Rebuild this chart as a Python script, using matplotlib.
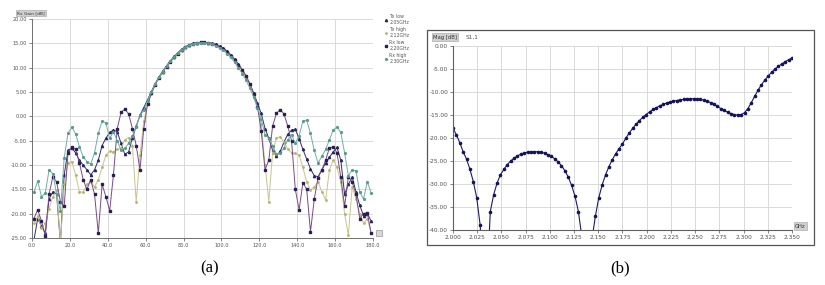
import numpy as np
import matplotlib.pyplot as plt
from matplotlib.patches import Rectangle

# ================= (a) gain pattern, 2 deg steps =================
angle = list(range(1, 180, 2))

tx_low = [-25.5, -21, -22.5, -24, -17, -15.5, -16, -26, -12, -7,
          -6.5, -7.5, -9, -10, -11, -12, -11, -9, -6, -4.5,
          -3.3, -2.8, -3.2, -5.5, -7.8, -7.3, -4.5, -2, 0.2,
          1.8, 3.4, 5.1, 6.7, 8.1, 9.3, 10.4, 11.4, 12.3, 13.1,
          13.8, 14.3, 14.7, 15.0, 15.15, 15.2, 15.2, 15.15, 15.0, 14.8,
          14.4, 14.0, 13.4, 12.6, 11.7, 10.7, 9.6, 8.3, 6.7, 4.8, 2.7, 0.6,
          -2.5, -4.5, -7, -8.2, -7.2, -5.3, -3.7, -2.8, -2.7, -4.6,
          -6.8, -8.8, -10.8, -12.2, -12.4, -11, -9.6, -8.4, -7.3, -6.4,
          -9, -16, -14, -12.5, -15.5, -18.3, -20.4, -20, -21.5]

tx_high = [-22, -20.5, -23, -22, -19, -16.5, -15.2, -26, -14, -9.5,
           -9.3, -12, -15.5, -15.6, -14, -13.4, -14.5, -13, -10.5, -8,
           -7.2, -7.3, -6.8, -6.6, -4.8, -4.4, -6, -17.5, -8,
           -1.0, 2.6, 4.6, 6.4, 7.8, 9.0, 10.1, 11.1, 12.0, 12.8,
           13.5, 14.1, 14.5, 14.8, 15.0, 15.1, 15.1, 15.0, 14.8, 14.6,
           14.2, 13.8, 13.2, 12.4, 11.5, 10.5, 9.4, 8.1, 6.4, 4.3, 1.8, -1.5,
           -10, -17.5, -7.5, -4.4, -4.2, -5.3, -6.8, -7.5, -7.6, -8,
           -10.5, -13.5, -15.1, -14.5, -13.4, -15.5, -17.2, -11, -9, -10.5,
           -13.5, -20, -24.4, -14.5, -17, -20, -22, -21, -24]

rx_low = [-21, -19.2, -21.5, -24.5, -16, -12.4, -13.5, -17.5, -18.5, -7.5,
          -6.2, -6.8, -9.5, -13, -15, -13, -16, -24, -14, -16.5,
          -19.4, -12, -2.5, 0.8, 1.5, 0.5, -2.5, -6, -11,
          -2.5, 2.5, 4.7, 6.5, 7.9, 9.1, 10.2, 11.2, 12.1, 12.9,
          13.6, 14.2, 14.6, 14.9, 15.1, 15.2, 15.2, 15.1, 14.9, 14.7,
          14.3, 13.9, 13.3, 12.5, 11.6, 10.6, 9.5, 8.2, 6.6, 4.6, 2.0, -3.0,
          -11, -9, -2, 0.6, 1.4, 0.5, -2, -5, -15, -19.2,
          -13.6, -15, -23.7, -17, -12.6, -11, -9, -6.5, -6.3, -7.5,
          -12.5, -18.5, -12.4, -13.5, -16, -21, -20, -19.8, -24]

rx_high = [-15.6, -13.3, -16.5, -15.8, -11, -11.8, -16, -19.5, -8.5, -3.5,
           -2.2, -3.6, -6.2, -8.3, -9.3, -9.8, -7.5, -3.5, -0.9, -1.4,
           -4.5, -3.2, -5, -7, -6.6, -5.5, -4, -2.2, 0.2,
           1.2, 3.2, 5.0, 6.6, 8.0, 9.2, 10.3, 11.3, 12.2, 13.0,
           13.7, 14.2, 14.6, 14.9, 15.05, 15.1, 15.1, 15.0, 14.8, 14.5,
           14.1, 13.6, 12.9, 12.1, 11.1, 10.0, 8.8, 7.4, 5.8, 3.9, 1.8, -0.5,
           -3.8, -4.5, -6, -7.8, -7.5, -6.5, -4.8, -3.8, -5.5, -4,
           -1.0, -0.8, -3.5, -7, -9.6, -8.2, -6.8, -4.8, -2.8, -2.2,
           -3.3, -7.5, -12.2, -11, -11.2, -15.6, -17, -13.4, -15.8]

series_names = ["Tx low\n2.05GHz", "Tx high\n2.12GHz", "Rx low\n2.20GHz", "Rx high\n2.30GHz"]

# ================= (b) S11 sweep, 101 points =================
freq = np.linspace(2.0, 2.35, 101)
s11 = [-17.9, -19.3, -21.0, -23.0, -24.6, -26.8, -29.5, -33.0, -38.9, -50,
       -52, -36.0, -32.3, -29.8, -28.0, -26.8, -25.8, -25.0, -24.4, -23.9,
       -23.5, -23.25, -23.1, -23.0, -22.95, -23.0, -23.1, -23.3, -23.6, -24.0,
       -24.5, -25.2, -26.0, -27.1, -28.5, -30.3, -32.7, -36.0, -41.5, -50,
       -52, -42, -37, -33, -30.2, -28.0, -26.2, -24.7, -23.4, -22.3,
       -21.3, -20.0, -18.9, -17.9, -17.0, -16.2, -15.5, -14.9, -14.3, -13.8,
       -13.4, -13.0, -12.7, -12.4, -12.2, -12.0, -11.85, -11.7, -11.6, -11.5,
       -11.45, -11.45, -11.5, -11.6, -11.8, -12.0, -12.3, -12.7, -13.1, -13.6,
       -14.0, -14.4, -14.7, -14.9, -15.0, -14.9, -14.5, -13.6, -12.3, -10.9,
       -9.6, -8.4, -7.4, -6.5, -5.7, -5.0, -4.4, -3.9, -3.4, -3.0, -2.6]

# ================= figure =================
W, H = 825, 285
fig = plt.figure(figsize=(W / 100, H / 100), dpi=100)

def box(x0, y0, x1, y1):
    # pixel box -> figure fraction [left, bottom, width, height]
    return [x0 / W, 1 - y1 / H, (x1 - x0) / W, (y1 - y0) / H]

tick_col = "#505050"
grid_col = "#d4d4d4"
fs = 3.6

# ---- (a) ----
ax1 = fig.add_axes(box(32, 19, 373, 238))
styles = [
    dict(color="#2e2f6e", marker="^", ms=1.6, mfc="#262660", mec="#262660"),
    dict(color="#c9c38c", marker="o", ms=1.0, mfc="#b8b070", mec="#b8b070"),
    dict(color="#7a4a86", marker="s", ms=1.6, mfc="#2a1f50", mec="#2a1f50"),
    dict(color="#6fb0a6", marker="o", ms=1.3, mfc="#5a9a90", mec="#5a9a90"),
]
handles = []
for vals, st, name in zip([tx_low, tx_high, rx_low, rx_high], styles, series_names):
    ln, = ax1.plot(angle, vals, lw=0.7, label=name, **st)
    handles.append(ln)

ax1.set_xlim(0, 180)
ax1.set_ylim(-25, 20)
ax1.set_xticks(range(0, 181, 20))
ax1.set_yticks(range(-25, 21, 5))
ax1.set_xticklabels([f"{v:.1f}" for v in range(0, 181, 20)])
ax1.set_yticklabels([f"{v:.2f}" for v in range(-25, 21, 5)])
ax1.grid(True, color=grid_col, lw=0.6)
ax1.set_axisbelow(True)
for s in ["top", "right"]:
    ax1.spines[s].set_visible(False)
for s in ["left", "bottom"]:
    ax1.spines[s].set_color("#707070")
    ax1.spines[s].set_linewidth(0.7)
ax1.tick_params(labelsize=fs, colors=tick_col, length=2, width=0.5, pad=1.5)

fig.text(17 / W, 1 - 13 / H, "Rx Gain [dB]", fontsize=3.2, color="#333333", va="center",
         bbox=dict(boxstyle="square,pad=0.2", fc="#d0d0d0", ec="#a0a0a0", lw=0.4))

leg = fig.legend(handles=handles, loc="upper left", bbox_to_anchor=(381 / W, 1 - 10 / H),
                 frameon=False, fontsize=3.3, handlelength=0.4, handletextpad=0.5,
                 labelspacing=0.5, labelcolor="#555555")
for h in leg.legend_handles:
    h.set_linestyle("none")

fig.add_artist(Rectangle(((376) / W, 1 - 236 / H), 6 / W, 6 / H, transform=fig.transFigure,
                         fc="#d8d8d8", ec="#808080", lw=0.4))

# ---- (b) ----
fig.add_artist(Rectangle((427 / W, 1 - 245 / H), 387 / W, 215 / H, transform=fig.transFigure,
                         fill=False, ec="#555555", lw=0.9))
ax2 = fig.add_axes(box(453, 46, 792, 230))
ax2.plot(freq, s11, color="#1c1c6a", lw=0.8, marker="o", ms=1.6, mfc="#14145a", mec="#14145a")
ax2.set_xlim(2.0, 2.35)
ax2.set_ylim(-40, 0)
xt = [2.0 + 0.025 * k for k in range(15)]
ax2.set_xticks(xt)
ax2.set_xticklabels([f"{v:.3f}" for v in xt])
ax2.set_yticks(range(-40, 1, 5))
ax2.set_yticklabels([f"{v:.2f}" for v in range(-40, 1, 5)])
ax2.grid(True, color=grid_col, lw=0.6)
ax2.set_axisbelow(True)
for s in ["top", "right"]:
    ax2.spines[s].set_visible(False)
for s in ["left", "bottom"]:
    ax2.spines[s].set_color("#606060")
    ax2.spines[s].set_linewidth(0.8)
ax2.tick_params(labelsize=4.2, colors=tick_col, length=2, width=0.5, pad=1.5)

fig.text(433 / W, 1 - 37 / H, "Mag [dB]", fontsize=3.8, color="#333333", va="center",
         bbox=dict(boxstyle="square,pad=0.2", fc="#d0d0d0", ec="#a0a0a0", lw=0.4))
fig.text(466 / W, 1 - 37 / H, "S1,1", fontsize=4.2, color="#555555", va="center")
fig.text(795 / W, 1 - 226 / H, "GHz", fontsize=3.8, color="#333333", va="center",
         bbox=dict(boxstyle="square,pad=0.2", fc="#d0d0d0", ec="#a0a0a0", lw=0.4))

fig.text(210 / W, 1 - 268 / H, "(a)", fontsize=12, family="Liberation Serif", ha="center", va="center")
fig.text(620 / W, 1 - 268 / H, "(b)", fontsize=12, family="Liberation Serif", ha="center", va="center")

fig.savefig("out.png", dpi=100)
